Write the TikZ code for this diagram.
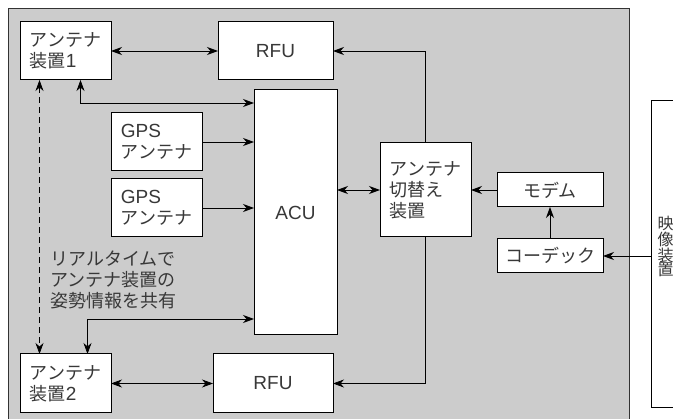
\documentclass[tikz,border=0pt]{standalone}
\usepackage{fontspec}
\setmainfont{Noto Sans CJK JP}
\newfontfamily\latn{Liberation Sans}
\usepackage{xcolor}
\usepackage{tikz}
\usetikzlibrary{arrows.meta,calc}

\begin{document}
\begin{tikzpicture}[x=1pt, y=-1pt,
  box/.style={draw, fill=white, line width=1pt, inner sep=0pt, outer sep=0pt, align=left,
    text=black!78, font=\fontsize{18}{21}\selectfont},
  link/.style={line width=0.8pt, >={Stealth[length=11pt, width=8pt, inset=3.5pt]}},
  lab/.style={text=black!78, align=left, inner sep=0pt, font=\fontsize{18}{21}\selectfont}
]
\useasboundingbox (0,0) rectangle (673,419);
\fill[white] (0,0) rectangle (673,419);
\draw[fill=black!20, line width=1pt, draw=black!80] (8,9) rectangle (629,430);
\node[box, minimum width=40, minimum height=307, anchor=north west] (video) at (651,101) {};
\node[lab, font=\fontsize{16}{14.5}\selectfont, anchor=north west] (vlab) at (657.5,216) {映\\像\\装\\置};

\node[box, minimum width=91, minimum height=58] (ant1) at (65.5,51) {アンテナ\\装置{\latn\fontsize{19}{21}\selectfont 1}};
\node[box, minimum width=115, minimum height=58, font=\latn\fontsize{19}{21}\selectfont] (rfu1) at (275.5,51) {RFU};
\node[box, minimum width=83, minimum height=245, font=\latn\fontsize{19}{21}\selectfont] (acu) at (295.5,212.5) {ACU};
\node[box, minimum width=91, minimum height=58] (gps1) at (156.5,142) {{\latn\fontsize{19}{21}\selectfont GPS}\\アンテナ};
\node[box, minimum width=91, minimum height=58] (gps2) at (156.5,208) {{\latn\fontsize{19}{21}\selectfont GPS}\\アンテナ};
\node[box, minimum width=91, minimum height=94] (sw) at (425.5,190) {アンテナ\\切替え\\装置};
\node[box, minimum width=106, minimum height=34] (modem) at (550,190) {モデム};
\node[box, minimum width=106, minimum height=34] (codec) at (550,256) {コーデック};
\node[box, minimum width=91, minimum height=59] (ant2) at (65.5,383.5) {アンテナ\\装置{\latn\fontsize{19}{21}\selectfont 2}};
\node[box, minimum width=120, minimum height=59, font=\latn\fontsize{19}{21}\selectfont] (rfu2) at (273,383.5) {RFU};
\node[lab, anchor=west] (note) at (50,280) {リアルタイムで\\アンテナ装置の\\姿勢情報を共有};

\draw[link, <->] (ant1) -- (rfu1);
\draw[link, ->] (sw.north) |- (rfu1.east);
\draw[link, ->] (sw.south) |- (rfu2.east);
\draw[link, <->] (ant2) -- (rfu2);
\draw[link, <->] (acu.east |- sw) -- (sw.west);
\draw[link, ->] (modem.west) -- (sw.east |- modem);
\draw[link, ->] (codec.north) -- (modem.south);
\draw[link, ->] (video.west |- codec) -- (codec.east);
\draw[link, <->] ([xshift=15pt]ant1.south) |- ([yshift=-13pt]acu.north west);
\draw[link, ->] (gps1) -- (gps1 -| acu.west);
\draw[link, ->] (gps2) -- (gps2 -| acu.west);
\draw[link, <->] ([yshift=16pt]acu.south west) -| ([xshift=22pt]ant2.north);
\draw[link, <->, dash pattern=on 6pt off 4pt] ([xshift=-26pt]ant1.south) -- ([xshift=-26pt]ant2.north);
\end{tikzpicture}
\end{document}
